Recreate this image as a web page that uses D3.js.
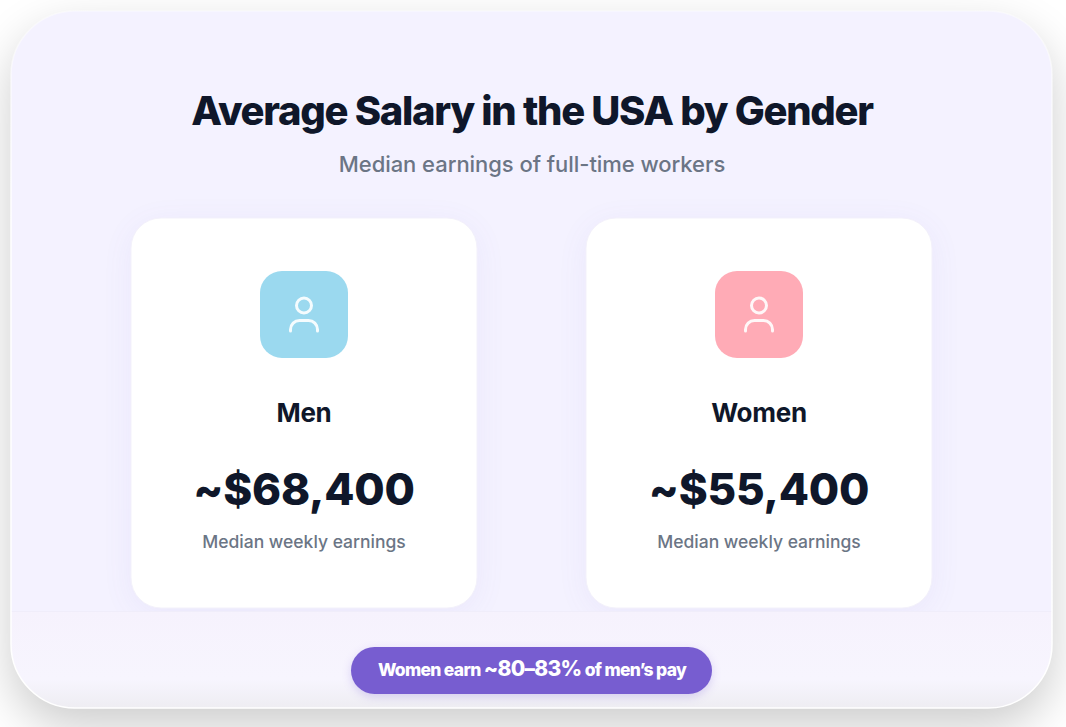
<!DOCTYPE html>
<html>
<head>
<meta charset="utf-8">
<script src="https://cdn.jsdelivr.net/npm/d3@7"></script>
<style>
  html, body { margin: 0; padding: 0; background: #fff; overflow: hidden; }
  svg { display: block; }
  text { font-family: Inter, sans-serif; }
</style>
</head>
<body>
<div id="chart"></div>
<script>
var width = 1066
var height = 727

var titleText = "Average Salary in the USA by Gender"
var subtitleText = "Median earnings of full-time workers"
var categories = ["Men", "Women"]
var salaries = [68400, 55400]
var cardNotes = ["Median weekly earnings", "Median weekly earnings"]
var iconColors = ["#9bd9ef", "#ffabb6"]
var footerParts = ["Women earn ", "~80–83%", " of men’s pay"]

var x = d3.scalePoint().domain(categories).range([304, 759])
var salaryFormat = d3.format("$,")

var svg = d3.select("#chart").append("svg")
    .attr("width", width)
    .attr("height", height)

var defs = svg.append("defs")

function blurFilter(id, dev) {
    defs.append("filter")
        .attr("id", id)
        .attr("x", "-30%").attr("y", "-30%")
        .attr("width", "160%").attr("height", "160%")
        .append("feGaussianBlur")
        .attr("stdDeviation", dev)
}
blurFilter("panelBlur", 24)
blurFilter("cardBlur", 16)
blurFilter("pillBlur", 5)

var footGrad = defs.append("linearGradient")
    .attr("id", "footGrad")
    .attr("x1", 0).attr("y1", 0).attr("x2", 0).attr("y2", 1)
footGrad.append("stop").attr("offset", "0%").attr("stop-color", "#f6f2fd")
footGrad.append("stop").attr("offset", "70%").attr("stop-color", "#f7f5fe")
footGrad.append("stop").attr("offset", "100%").attr("stop-color", "#eeedf2")

// border is nearly invisible along the top, solid white at the bottom
var borderGrad = defs.append("linearGradient")
    .attr("id", "borderGrad")
    .attr("x1", 0).attr("y1", 0).attr("x2", 0).attr("y2", 1)
borderGrad.append("stop").attr("offset", "0%").attr("stop-color", "#fff").attr("stop-opacity", 0.4)
borderGrad.append("stop").attr("offset", "30%").attr("stop-color", "#fff").attr("stop-opacity", 1)

defs.append("clipPath").attr("id", "panelClip")
    .append("rect")
    .attr("x", 11).attr("y", 11)
    .attr("width", 1041).attr("height", 697)
    .attr("rx", 64)

// panel shadow
svg.append("rect")
    .attr("x", 11).attr("y", 30)
    .attr("width", 1041).attr("height", 697)
    .attr("rx", 64)
    .attr("fill", "#000")
    .attr("opacity", 0.2)
    .attr("filter", "url(#panelBlur)")

var panel = svg.append("g")

panel.append("rect")
    .attr("x", 11).attr("y", 11)
    .attr("width", 1041).attr("height", 697)
    .attr("rx", 64)
    .attr("fill", "#f4f2ff")

var inner = panel.append("g").attr("clip-path", "url(#panelClip)")

// card shadows go under the footer band
inner.selectAll("rect.cardShadow")
    .data(categories)
    .enter().append("rect")
    .attr("class", "cardShadow")
    .attr("x", function(d) { return x(d) - 173 })
    .attr("y", 224)
    .attr("width", 346).attr("height", 390)
    .attr("rx", 30)
    .attr("fill", "#6a5acd")
    .attr("opacity", 0.07)
    .attr("filter", "url(#cardBlur)")

// footer band
inner.append("rect")
    .attr("x", 11).attr("y", 611)
    .attr("width", 1041).attr("height", 97)
    .attr("fill", "url(#footGrad)")

inner.append("line")
    .attr("x1", 11).attr("x2", 1052)
    .attr("y1", 611.5).attr("y2", 611.5)
    .attr("stroke", "#f0edfa")

// panel border
panel.append("rect")
    .attr("x", 11).attr("y", 11)
    .attr("width", 1041).attr("height", 697)
    .attr("rx", 64)
    .attr("fill", "none")
    .attr("stroke", "url(#borderGrad)")
    .attr("stroke-width", 1.5)

svg.append("text")
    .attr("x", 532).attr("y", 125)
    .attr("text-anchor", "middle")
    .attr("font-size", 40)
    .attr("font-weight", 800)
    .attr("letter-spacing", "-1.3px")
    .attr("fill", "#0f172a")
    .text(titleText)

svg.append("text")
    .attr("x", 532).attr("y", 172)
    .attr("text-anchor", "middle")
    .attr("font-size", 22)
    .attr("font-weight", 500)
    .attr("letter-spacing", "-0.05px")
    .attr("fill", "#6b7585")
    .text(subtitleText)

var cards = svg.selectAll("g.card")
    .data(categories)
    .enter().append("g")
    .attr("class", "card")
    .attr("transform", function(d) { return "translate(" + x(d) + ",0)" })

cards.append("rect")
    .attr("x", -173).attr("y", 218)
    .attr("width", 346).attr("height", 390)
    .attr("rx", 30)
    .attr("fill", "#fff")
    .attr("stroke", "#f3f1fb")

cards.append("rect")
    .attr("x", -44).attr("y", 271)
    .attr("width", 88).attr("height", 87)
    .attr("rx", 22)
    .attr("fill", function(d, i) { return iconColors[i] })

// person icon
cards.append("circle")
    .attr("cx", 0).attr("cy", 305.5)
    .attr("r", 7.5)
    .attr("fill", "none")
    .attr("stroke", "#fff")
    .attr("stroke-width", 3)
    .attr("stroke-opacity", 0.9)

cards.append("path")
    .attr("d", "M-13.5,331V329.5a9,9 0 0 1 9,-9H4.5a9,9 0 0 1 9,9V331")
    .attr("fill", "none")
    .attr("stroke", "#fff")
    .attr("stroke-width", 3)
    .attr("stroke-opacity", 0.9)
    .attr("stroke-linecap", "round")

cards.append("text")
    .attr("y", 422)
    .attr("text-anchor", "middle")
    .attr("font-size", 26)
    .attr("font-weight", 700)
    .attr("letter-spacing", "-0.3px")
    .attr("fill", "#0f172a")
    .text(function(d) { return d })

cards.append("text")
    .attr("y", 505)
    .attr("text-anchor", "middle")
    .attr("font-size", 44)
    .attr("font-weight", 800)
    .attr("letter-spacing", "-0.25px")
    .attr("fill", "#0f172a")
    .text(function(d, i) { return "~" + salaryFormat(salaries[i]) })

cards.append("text")
    .attr("y", 548)
    .attr("text-anchor", "middle")
    .attr("font-size", 17.5)
    .attr("font-weight", 500)
    .attr("fill", "#6b7585")
    .text(function(d, i) { return cardNotes[i] })

// footer pill
svg.append("rect")
    .attr("x", 351).attr("y", 650)
    .attr("width", 361).attr("height", 47)
    .attr("rx", 23.5)
    .attr("fill", "#7a5fd3")
    .attr("opacity", 0.25)
    .attr("filter", "url(#pillBlur)")

svg.append("rect")
    .attr("x", 351).attr("y", 647)
    .attr("width", 361).attr("height", 47)
    .attr("rx", 23.5)
    .attr("fill", "#775dd0")

var pillText = svg.append("text")
    .attr("x", 532).attr("y", 676)
    .attr("text-anchor", "middle")
    .attr("font-size", 18)
    .attr("font-weight", 800)
    .attr("letter-spacing", "-0.7px")
    .attr("fill", "#fff")

pillText.selectAll("tspan")
    .data(footerParts)
    .enter().append("tspan")
    .attr("font-size", function(d, i) { return i == 1 ? 21 : 17.5 })
    .text(function(d) { return d })
</script>
</body>
</html>
